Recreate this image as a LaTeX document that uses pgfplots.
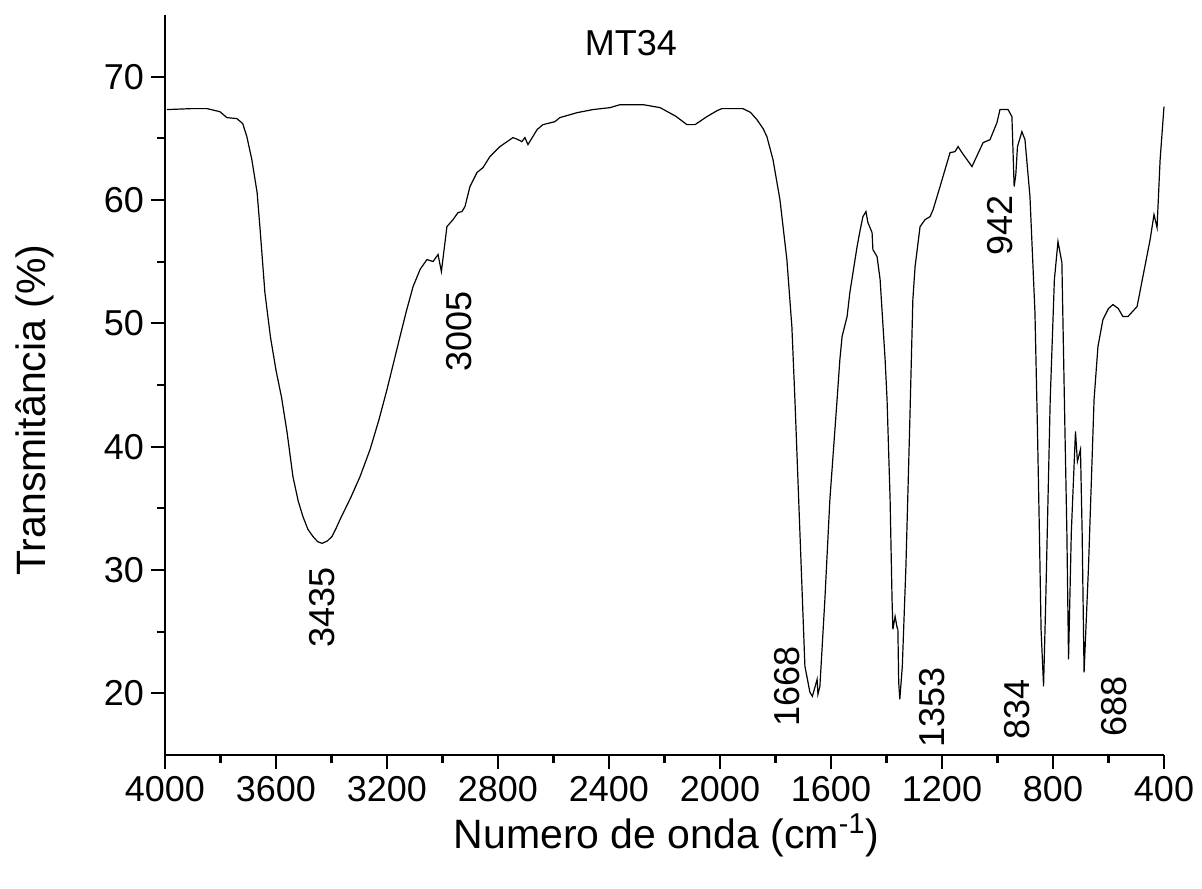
\documentclass[border=0pt]{standalone}
\usepackage{fontspec}
\setmainfont{Liberation Sans}
\usepackage{pgfplots}
\pgfplotsset{compat=1.18}
\begin{document}
\begin{tikzpicture}
\begin{axis}[
  name=ax,
  scale only axis,
  width=499.5pt, height=370pt,
  xmin=400, xmax=4000, x dir=reverse,
  ymin=15, ymax=75,
  axis lines=left,
  axis line style={-, line width=1.1pt},
  every outer x axis line/.append style={-},
  every outer y axis line/.append style={-},
  xtick={400,800,...,4000},
  ytick={20,30,...,70},
  minor x tick num=1, minor y tick num=1,
  tick align=outside,
  major tick length=7pt, minor tick length=4pt,
  tick style={line width=1.1pt, black},
  xticklabel style={/pgf/number format/1000 sep={}},
  /pgf/number format/assume math mode=true,
  tick label style={font=\fontsize{18}{20}\selectfont},
  label style={font=\fontsize{20.5}{23}\selectfont},
  xlabel={Numero de onda (cm\textsuperscript{-1})},
  ylabel={Transmitância (\%)},
  xlabel style={at={(axis description cs:0.502,-0.108)}, anchor=center},
  ylabel style={at={(axis description cs:-0.130,0.466)}, anchor=center},
  clip=false,
]
\addplot[black, line width=0.6pt] coordinates {
(3993,67.33)(3903,67.41)(3849,67.41)(3802,67.16)(3777,66.68)(3741,66.60)(3720,66.2)(3705,65.14)(3687,63.27)
(3668,60.60)(3658,57.84)(3640,52.50)(3620,48.9)(3600,46.2)(3580,44.0)(3560,41.15)(3539,37.58)(3520,35.6)(3503,34.34)
(3485,33.3)(3467,32.72)(3450,32.3)(3434,32.16)(3415,32.35)(3398,32.72)(3385,33.3)(3369,34.10)(3330,35.9)(3297,37.58)(3261,39.77)(3230,42.1)(3200,44.63)(3153,48.93)
(3130,51.0)(3106,52.98)(3080,54.4)(3056,55.17)(3034,55.01)(3016,55.58)(3004,54.20)(2984,57.84)(2962,58.41)(2944,58.98)
(2930,59.06)(2919,59.46)(2901,61.09)(2876,62.22)(2854,62.63)(2829,63.52)(2793,64.33)(2746,65.06)
(2728,64.90)(2714,64.73)(2703,65.06)(2692,64.49)(2659,65.71)(2638,66.11)(2595,66.35)(2577,66.68)
(2515,67.08)(2458,67.33)(2396,67.49)(2360,67.73)(2277,67.73)(2216,67.49)(2160,66.8)(2119,66.11)(2090,66.11)
(2047,66.76)(2010,67.25)(1993,67.41)(1917,67.41)(1890,67.1)(1867,66.52)(1845,65.8)(1831,65.14)(1809,63.27)(1784,60.03)(1759,55.17)
(1741,49.74)(1730,43.83)(1712,33.05)(1694,22.19)(1687,21.38)(1676,20.09)(1667,19.76)(1650,21.13)
(1647,19.92)(1640,20.57)(1622,27.62)(1604,35.72)(1578,43.83)(1568,47.07)(1560,48.93)(1542,50.55)
(1532,52.50)(1506,56.22)(1496,57.44)(1485,58.65)(1474,59.06)(1467,58.17)(1452,57.36)(1449,55.98)
(1434,55.41)(1423,53.55)(1405,47.07)(1398,43.83)(1387,35.72)(1380,27.62)(1377,25.19)(1369,26.24)
(1362,25.35)(1359,25.19)(1356,20.89)(1352,19.51)(1343,22.19)(1330,30.29)(1317,41.15)(1305,51.93)
(1297,54.60)(1279,57.84)(1261,58.41)(1243,58.65)(1232,59.22)(1207,61.09)(1171,63.84)(1153,63.92)
(1142,64.33)(1128,63.84)(1092,62.71)(1052,64.65)(1027,64.89)(1002,66.27)(991,67.33)(962,67.33)
(948,66.76)(940,61.09)(934,62.06)(928,64.33)(912,65.54)(901,64.89)(883,60.28)(865,50.88)
(856,41.39)(849,33.05)(843,25.19)(834,20.57)(826,27.62)(810,43.83)(795,53.55)(782,56.63)
(768,54.93)(757,41.39)(750,33.05)(744,22.76)(734,33.05)(719,41.23)(712,38.80)(701,39.77)
(695,33.05)(688,21.70)(672,30.29)(652,43.83)(638,48.12)(620,50.31)(600,51.2)(584,51.52)(565,51.2)(548,50.55)
(530,50.55)(497,51.36)(476,53.79)(450,56.79)(436,58.82)(425,57.76)(414,63.27)(400,67.57)
};
\node[rotate=90, font=\fontsize{18}{20}\selectfont] at (axis cs:3434,26.97) {3435};
\node[rotate=90, font=\fontsize{18}{20}\selectfont] at (axis cs:2941,49.33) {3005};
\node[rotate=90, font=\fontsize{18}{20}\selectfont] at (axis cs:1759,20.57) {1668};
\node[rotate=90, font=\fontsize{18}{20}\selectfont] at (axis cs:1236,18.87) {1353};
\node[rotate=90, font=\fontsize{18}{20}\selectfont] at (axis cs:991,57.93) {942};
\node[rotate=90, font=\fontsize{18}{20}\selectfont] at (axis cs:930,18.7) {834};
\node[rotate=90, font=\fontsize{18}{20}\selectfont] at (axis cs:580,18.94) {688};
\node[font=\fontsize{18}{20}\selectfont] at (axis cs:2321,72.76) {MT34};
\end{axis}
\pgfresetboundingbox
\path ([xshift=-82.5pt, yshift=-67pt]ax.south west) rectangle ([xshift=19pt, yshift=7.5pt]ax.north east);
\end{tikzpicture}
\end{document}
